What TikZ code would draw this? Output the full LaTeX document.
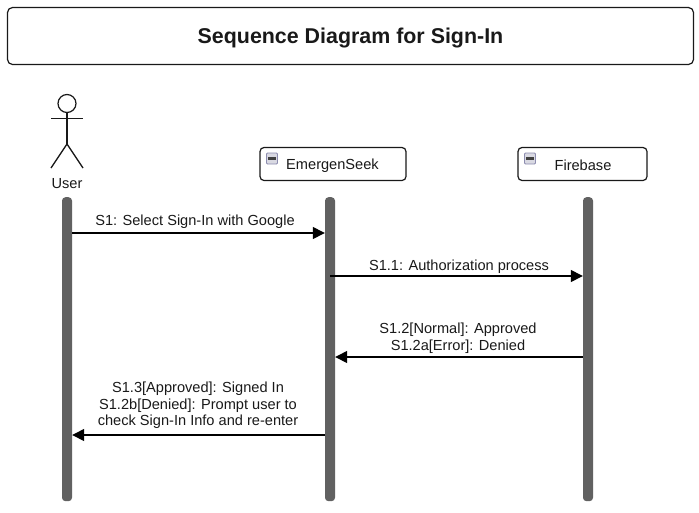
\documentclass[tikz,border=0pt]{standalone}
\usepackage{fontspec}
\setmainfont{Liberation Sans}
\usetikzlibrary{arrows.meta}
\begin{document}
\begin{tikzpicture}[x=1pt,y=-1pt,
  every node/.style={font=\fontsize{14.6}{16.5}\selectfont,text=black!90,inner sep=0pt},
  lifebar/.style={fill=black!62,rounded corners=3.5pt,minimum width=10pt,minimum height=304pt,anchor=north},
  objbox/.style={draw=black!90,line width=1.2pt,rounded corners=4pt,fill=white,minimum width=146pt,minimum height=33pt},
  msg/.style={draw=black,line width=1.4pt,-{Triangle[length=12pt,width=12pt]}},
  msgtext/.style={align=center},
  actorline/.style={draw=black!90,line width=1.3pt}]
\useasboundingbox (0,0) rectangle (699,512);
\node[draw=black!90,line width=1.2pt,rounded corners=5pt,minimum width=686pt,minimum height=57pt,font=\bfseries\fontsize{21.4}{24}\selectfont] (title) at (350.5,36) {\raisebox{-7.5pt}[0pt][0pt]{Sequence Diagram for Sign-In}};
% actor
\node[circle,draw=black!90,line width=1.2pt,minimum size=18pt] (head) at (67,103.5) {};
\coordinate (hip) at (67,144);
\coordinate (armL) at (51,118.5);
\coordinate (armR) at (83,118.5);
\coordinate (footL) at (51,168);
\coordinate (footR) at (83,168);
\draw[actorline] (head.south) -- (hip);
\draw[actorline] (armL) -- (armR);
\draw[actorline] (footL) -- (hip) -- (footR);
\node (user) at (67,184) {User};
% object boxes
\node[objbox,minimum width=146pt] (es) at (333,164) {};
\node at (332.5,165.5) {EmergenSeek};
\node[objbox,minimum width=129pt] (fb) at (582.5,164) {};
\node at (583,165.5) {Firebase};
\foreach \n/\cx/\cy in {esi/272/158.5,fbi/530/158.5}{
  \node[draw=blue!30!black!45,fill=blue!25!black!15,rounded corners=1pt,line width=0.8pt,minimum size=11pt] (\n) at (\cx,\cy) {};
  \node[fill=black!75,minimum width=7.5pt,minimum height=2.2pt] at (\n.center) {};
}
% lifelines
\node[lifebar] (lu) at (67,197) {};
\node[lifebar] (le) at (330,197) {};
\node[lifebar] (lf) at (588,197) {};
% messages
\coordinate (m1) at (lu.east |- 0,233);
\coordinate (m1e) at (le.west |- 0,233);
\draw[msg] (m1) -- (m1e);
\node[msgtext] (t1) at (195,222) {S1: Select Sign-In with Google};
\coordinate (m2) at (le.center |- 0,276);
\coordinate (m2e) at (lf.west |- 0,276);
\draw[msg] (m2) -- (m2e);
\node[msgtext] (t2) at (459,266.5) {S1.1: Authorization process};
\coordinate (m3) at (lf.west |- 0,357);
\coordinate (m3e) at (le.east |- 0,357);
\draw[msg] (m3) -- (m3e);
\node[msgtext] (t3) at (458,338) {S1.2[Normal]: Approved\\S1.2a[Error]: Denied};
\coordinate (m4) at (le.west |- 0,435);
\coordinate (m4e) at (lu.east |- 0,435);
\draw[msg] (m4) -- (m4e);
\node[msgtext] (t4) at (198,405.5) {S1.3[Approved]: Signed In\\S1.2b[Denied]: Prompt user to\\check Sign-In Info and re-enter};
\end{tikzpicture}
\end{document}
